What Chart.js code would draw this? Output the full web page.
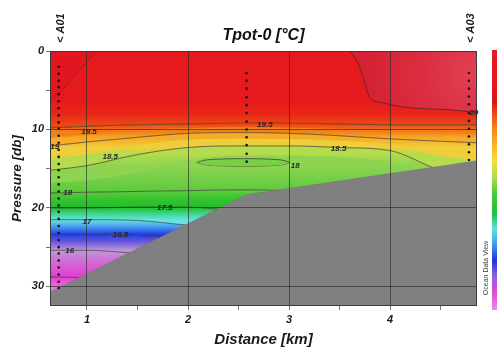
<!DOCTYPE html>
<html>
<head>
<meta charset="utf-8">
<script src="https://cdn.jsdelivr.net/npm/chart.js@4.4.1/dist/chart.umd.min.js"></script>
<style>
  html, body { margin: 0; padding: 0; background: #fff; }
  #wrap { width: 497px; height: 352px; }
</style>
</head>
<body>
<div id="wrap"><canvas id="sectionChart" width="497" height="352"></canvas></div>
<script>
// Tpot-0 section A01 -> A03 (Ocean Data View style)
const xMin = 0.634, xMax = 4.86, yMax = 32.5;
const xTicks = [1, 1.5, 2, 2.5, 3, 3.5, 4, 4.5];
const yTicks = [0, 5, 10, 15, 20, 25, 30];

// stations and sample depths (db)
const stationKm = [0.72, 2.58, 4.78];
const stationTags = ['A01', '', 'A03'];
const a01Db = [2.0, 2.9, 3.8, 4.6, 5.5, 6.4, 7.3, 8.2, 9.1, 9.9, 10.8, 11.7, 12.6, 13.5, 14.4, 15.2, 16.1,
  17.0, 17.9, 18.8, 19.7, 20.5, 21.4, 22.3, 23.2, 24.1, 25.0, 25.8, 26.7, 27.6, 28.5, 29.4, 30.2];
const a02Db = [2.8, 3.8, 4.8, 5.9, 6.9, 7.9, 9.0, 10.0, 11.0, 12.0, 13.1, 14.1];
const a03Db = [2.8, 3.8, 4.8, 5.8, 6.8, 7.9, 8.9, 9.9, 10.9, 11.9, 12.9, 13.9];

// sea floor
const bottomKm = [0.634, 2.58, 4.86];
const bottomDb = [30.7, 18.3, 14.0];

// isotherm depths (db) at these distances
const gridKm  = [0.634, 1.0, 1.5, 2.0, 2.5, 3.0, 3.5, 4.0, 4.5, 4.86];
const surface = [0, 0, 0, 0, 0, 0, 0, 0, 0, 0];
const iso195  = [9.8, 9.6, 9.4, 9.3, 9.2, 9.2, 9.3, 9.4, 9.4, 9.4];
const iso1925 = [11.0, 10.6, 10.2, 9.9, 9.8, 9.85, 10.05, 10.3, 10.45, 10.55];
const iso19   = [12.1, 11.6, 11.0, 10.5, 10.4, 10.5, 10.8, 11.2, 11.5, 11.7];
const iso1875 = [13.6, 13.1, 12.1, 11.4, 11.25, 11.3, 11.55, 12.0, 13.3, 13.8];
const iso185  = [15.2, 14.6, 13.2, 12.3, 12.1, 12.1, 12.3, 12.7, 15.2, 16.0];
const iso1825 = [16.7, 16.4, 15.4, 14.0, 13.4, 13.4, 13.6, 14.2, 16.5, 17.5];
const iso18   = [18.1, 18.0, 17.9, 17.8, 17.7, 17.8, 18.2, 18.6, 19.0, 19.4];
const iso175  = [20.0, 20.0, 19.9, 19.9, 20.4, 20.6, 20.8, 21.0, 21.2, 21.4];
const iso17   = [21.5, 21.5, 21.6, 22.2, 22.6, 22.8, 23.0, 23.2, 23.4, 23.6];
const iso165  = [23.3, 23.3, 23.5, 24.0, 24.4, 24.6, 24.8, 25.0, 25.2, 25.4];
const iso16   = [25.4, 25.4, 25.8, 26.2, 26.6, 26.8, 27.0, 27.2, 27.4, 27.6];
const iso155  = [28.8, 28.9, 29.2, 29.4, 29.6, 29.8, 30.0, 30.2, 30.4, 30.6];

// closed / partial contours
const t20RightKm = [3.6, 3.68, 3.73, 3.8, 3.93, 4.1, 4.6, 4.86];
const t20RightDb = [0, 1.5, 3.3, 5.9, 6.6, 7.1, 7.5, 7.8];
const t20LeftKm = [0.634, 0.73, 0.9, 1.1];
const t20LeftDb = [6.3, 5.3, 2.8, 0];
const core18Km = [2.09, 2.15, 2.32, 2.55, 2.78, 2.95, 3.01];
const core18Top = [14.2, 13.95, 13.77, 13.72, 13.77, 13.95, 14.2];
const core18Bot = [14.2, 14.45, 14.63, 14.68, 14.63, 14.45, 14.2];

// contour labels
const labelText = ['19.5', '19', '18.5', '19.5', '18', '18.5', '20', '18', '17.5', '17', '16.5', '16'];
const labelKm = [1.02, 0.68, 1.23, 2.76, 3.06, 3.49, 4.83, 0.81, 1.77, 1.0, 1.33, 0.83];
const labelDb = [10.3, 12.2, 13.5, 9.4, 14.6, 12.5, 7.9, 18.1, 20.0, 21.8, 23.4, 25.5];

// colour scale (temperature -> rgb)
const tempStops = [
  [20.2, [214, 42, 62]], [20.0, [228, 24, 32]], [19.75, [232, 28, 24]], [19.5, [236, 72, 22]],
  [19.25, [242, 128, 24]], [19.0, [246, 172, 38]], [18.75, [238, 206, 58]], [18.5, [180, 220, 76]],
  [18.25, [142, 212, 80]], [18.0, [92, 202, 62]], [17.75, [52, 196, 46]], [17.5, [32, 190, 42]],
  [17.25, [62, 212, 140]], [17.0, [102, 228, 226]], [16.75, [70, 150, 240]], [16.5, [32, 62, 230]],
  [16.25, [110, 90, 220]], [16.0, [190, 150, 215]], [15.75, [214, 100, 214]], [15.5, [226, 62, 210]],
  [15.25, [240, 122, 230]]
];

function tempColor(t) {
  const s = tempStops;
  const fmt = c => 'rgb(' + c.map(Math.round).join(',') + ')';
  if (t >= s[0][0]) return fmt(s[0][1]);
  for (let i = 1; i < s.length; i++) {
    if (t >= s[i][0]) {
      const f = (s[i - 1][0] - t) / (s[i - 1][0] - s[i][0]);
      const a = s[i - 1][1], b = s[i][1];
      return fmt([0, 1, 2].map(k => a[k] + (b[k] - a[k]) * f));
    }
  }
  return fmt(s[s.length - 1][1]);
}

function bottomAt(km) {
  for (let i = 1; i < bottomKm.length; i++) {
    if (km <= bottomKm[i]) {
      const f = (km - bottomKm[i - 1]) / (bottomKm[i] - bottomKm[i - 1]);
      return bottomDb[i - 1] + (bottomDb[i] - bottomDb[i - 1]) * f;
    }
  }
  return bottomDb[bottomDb.length - 1];
}

function meanVisible(arr) {
  let s = 0, n = 0;
  gridKm.forEach((km, i) => { if (arr[i] < bottomAt(km)) { s += arr[i]; n++; } });
  return n ? s / n : arr[0];
}

function bandFill(tHi, tLo, dTop, dBot) {
  return function (c) {
    const chart = c.chart;
    if (!chart.chartArea) return tempColor((tHi + tLo) / 2);
    const ys = chart.scales.y;
    const g = chart.ctx.createLinearGradient(0, ys.getPixelForValue(dTop), 0, ys.getPixelForValue(dBot));
    g.addColorStop(0, tempColor(tHi));
    g.addColorStop(0.5, tempColor((tHi + tLo) / 2));
    g.addColorStop(1, tempColor(tLo));
    return g;
  };
}

const contourCol = 'rgba(45,40,30,0.8)';
const gridCol = 'rgba(40,40,40,0.8)';
const fontFam = "'Liberation Sans', Arial, sans-serif";
const pts = (xs, ys) => xs.map((v, i) => ({ x: v, y: ys[i] }));

// bands: surface down to the coldest isotherm
const isoRows = [
  { t: 19.9, d: surface, stroke: false },
  { t: 19.5, d: iso195, stroke: true },
  { t: 19.25, d: iso1925, stroke: false },
  { t: 19.0, d: iso19, stroke: true },
  { t: 18.75, d: iso1875, stroke: false },
  { t: 18.5, d: iso185, stroke: true },
  { t: 18.25, d: iso1825, stroke: false },
  { t: 18.0, d: iso18, stroke: true },
  { t: 17.5, d: iso175, stroke: true },
  { t: 17.0, d: iso17, stroke: true },
  { t: 16.5, d: iso165, stroke: true },
  { t: 16.0, d: iso16, stroke: true },
  { t: 15.5, d: iso155, stroke: true }
];

const isoSets = isoRows.map((row, i) => {
  const next = isoRows[i + 1];
  const top = i === 0 ? meanVisible(iso195) - 3 : meanVisible(row.d);
  const bot = next ? meanVisible(next.d) : yMax - 2;
  return {
    data: pts(gridKm, row.d),
    // hidden isotherms get a line in their own colour to close the seam between fills
    borderColor: row.stroke ? contourCol : tempColor(row.t),
    borderWidth: row.stroke ? 0.8 : (i === 0 ? 0 : 1.2),
    backgroundColor: bandFill(row.t, next ? next.t : 15.25, top, bot),
    fill: next ? '+1' : { value: yMax },
    cubicInterpolationMode: 'monotone',
    pointRadius: 0,
    order: 100 - i
  };
});

const t20Right = {
  data: pts(t20RightKm, t20RightDb),
  borderColor: contourCol, borderWidth: 0.8,
  backgroundColor: function (c) {
    const chart = c.chart;
    if (!chart.chartArea) return 'rgb(216,42,60)';
    const px = chart.scales.x.getPixelForValue(xMax), py = chart.scales.y.getPixelForValue(3);
    const g = chart.ctx.createRadialGradient(px, py, 2, px, py, 110);
    g.addColorStop(0, 'rgb(226,64,84)');
    g.addColorStop(0.5, 'rgb(218,46,64)');
    g.addColorStop(1, 'rgb(212,34,50)');
    return g;
  },
  fill: { value: 0 }, cubicInterpolationMode: 'monotone', pointRadius: 0, order: 3
};

const t20Left = {
  data: pts(t20LeftKm, t20LeftDb),
  borderColor: 'rgba(45,40,30,0.5)', borderWidth: 0.7,
  backgroundColor: 'rgb(226,22,32)',
  fill: { value: 0 }, cubicInterpolationMode: 'monotone', pointRadius: 0, order: 3
};

const coreTop = {
  data: pts(core18Km, core18Top),
  borderColor: contourCol, borderWidth: 0.8,
  backgroundColor: 'rgb(122,206,72)', fill: '+1',
  cubicInterpolationMode: 'monotone', pointRadius: 0, order: 2
};
const coreBot = {
  data: pts(core18Km, core18Bot),
  borderColor: contourCol, borderWidth: 0.8, fill: false,
  cubicInterpolationMode: 'monotone', pointRadius: 0, order: 2
};

const seaFloor = {
  data: pts(bottomKm, bottomDb),
  borderColor: 'rgb(120,120,120)', borderWidth: 0.5,
  backgroundColor: 'rgb(128,128,128)', fill: { value: yMax },
  pointRadius: 0, order: 1
};

const stationSets = [a01Db, a02Db, a03Db].map((depths, i) => ({
  data: depths.map(d => ({ x: stationKm[i], y: d })),
  showLine: false, pointRadius: 1.3, pointBorderWidth: 0,
  pointBackgroundColor: '#151515', order: 0
}));

const overlayPlugin = {
  id: 'sectionOverlay',
  afterDraw(chart) {
    const { ctx, chartArea: a, scales: { x, y } } = chart;
    ctx.save();
    // frame
    ctx.strokeStyle = '#3a3a3a';
    ctx.lineWidth = 1;
    ctx.strokeRect(a.left + 0.5, a.top + 0.5, a.right - a.left - 1, a.bottom - a.top - 1);

    // contour labels
    ctx.fillStyle = '#262626';
    ctx.font = 'bold italic 8px ' + fontFam;
    ctx.textAlign = 'center';
    ctx.textBaseline = 'middle';
    labelText.forEach((t, i) => {
      ctx.fillText(t, x.getPixelForValue(labelKm[i]), y.getPixelForValue(labelDb[i]));
    });

    // station names above the section
    ctx.font = 'bold italic 11px ' + fontFam;
    ctx.fillStyle = '#1a1a1a';
    ctx.textAlign = 'left';
    stationTags.forEach((tag, i) => {
      if (!tag) return;
      ctx.save();
      ctx.translate(x.getPixelForValue(stationKm[i]) + 2, a.top - 8);
      ctx.rotate(-Math.PI / 2);
      ctx.fillText('< ' + tag, 0, 0);
      ctx.restore();
    });

    // colour bar (cut at the right edge)
    const cb = ctx.createLinearGradient(0, 50, 0, 310);
    [[0, 'rgb(226,28,38)'], [0.15, 'rgb(230,22,26)'], [0.2, 'rgb(205,24,24)'], [0.25, 'rgb(238,80,22)'],
     [0.31, 'rgb(245,140,26)'], [0.38, 'rgb(248,190,40)'], [0.43, 'rgb(240,224,60)'], [0.49, 'rgb(176,220,72)'],
     [0.56, 'rgb(62,200,52)'], [0.63, 'rgb(34,190,62)'], [0.69, 'rgb(92,226,226)'], [0.75, 'rgb(62,150,240)'],
     [0.81, 'rgb(32,52,226)'], [0.87, 'rgb(140,100,220)'], [0.93, 'rgb(220,72,210)'], [1, 'rgb(242,134,232)']
    ].forEach(s => cb.addColorStop(s[0], s[1]));
    ctx.fillStyle = cb;
    ctx.fillRect(492, 50, 8, 260);

    // watermark
    ctx.translate(486, 268);
    ctx.rotate(-Math.PI / 2);
    ctx.font = '7px ' + fontFam;
    ctx.fillStyle = '#3a3a3a';
    ctx.textAlign = 'center';
    ctx.fillText('Ocean Data View', 0, 0);
    ctx.restore();
  }
};

const tickFont = { family: fontFam, size: 11, weight: 'bold', style: 'italic' };

new Chart(document.getElementById('sectionChart'), {
  type: 'line',
  data: {
    datasets: [...isoSets, t20Right, t20Left, coreTop, coreBot, seaFloor, ...stationSets]
  },
  options: {
    responsive: false,
    animation: false,
    events: [],
    devicePixelRatio: 1,
    layout: { padding: { left: 0, right: 20, top: 0, bottom: 0 } },
    plugins: { legend: { display: false }, tooltip: { enabled: false }, title: { display: false } },
    scales: {
      x: {
        type: 'linear', min: xMin, max: xMax,
        afterBuildTicks: s => { s.ticks = xTicks.map(v => ({ value: v })); },
        afterFit: s => { s.height = 46; },
        ticks: {
          autoSkip: false, maxRotation: 0, padding: 3, color: '#1a1a1a', font: tickFont,
          callback: v => Number.isInteger(v) ? String(v) : ''
        },
        grid: {
          z: 1, lineWidth: 0.8, tickLength: 4, tickColor: gridCol,
          color: c => (c.tick && Number.isInteger(c.tick.value)) ? gridCol : 'rgba(0,0,0,0)'
        },
        border: { display: false },
        title: {
          display: true, text: 'Distance [km]', color: '#1a1a1a',
          font: { family: fontFam, size: 15, weight: 'bold', style: 'italic' },
          padding: { top: 0, bottom: 3 }
        }
      },
      x2: {
        type: 'linear', position: 'top', min: xMin, max: xMax,
        afterFit: s => { s.height = 51; },
        ticks: { display: false },
        grid: { display: false },
        border: { display: false },
        title: {
          display: true, text: 'Tpot-0 [°C]', color: '#111',
          font: { family: fontFam, size: 16, weight: 'bold', style: 'italic' },
          padding: { top: 26, bottom: 0 }
        }
      },
      y: {
        type: 'linear', reverse: true, min: 0, max: yMax,
        afterBuildTicks: s => { s.ticks = yTicks.map(v => ({ value: v })); },
        afterFit: s => { s.width = 50; },
        ticks: {
          autoSkip: false, padding: 2, color: '#1a1a1a', font: tickFont,
          callback: v => v % 10 === 0 ? String(v) : ''
        },
        grid: {
          z: 1, lineWidth: 0.8, tickLength: 4, tickColor: gridCol,
          color: c => (c.tick && c.tick.value % 10 === 0) ? gridCol : 'rgba(0,0,0,0)'
        },
        border: { display: false },
        title: {
          display: true, text: 'Pressure [db]', color: '#1a1a1a',
          font: { family: fontFam, size: 13.5, weight: 'bold', style: 'italic' },
          padding: { top: 9, bottom: 0 }
        }
      }
    }
  },
  plugins: [overlayPlugin]
});
</script>
</body>
</html>
